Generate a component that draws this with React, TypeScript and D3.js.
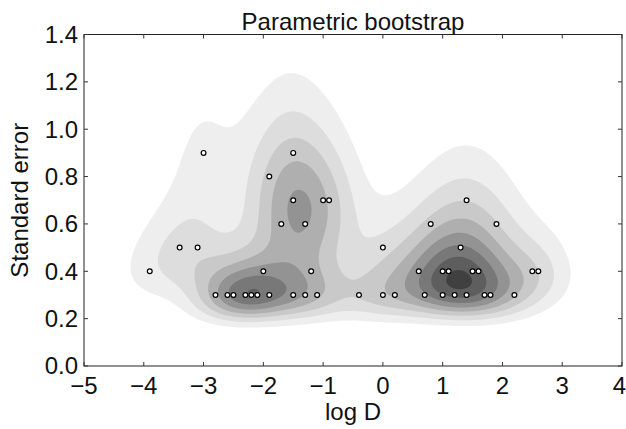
import * as d3 from "d3";

// bootstrap estimates (log D, standard error)
const logD = [-3.9, -3.4, -3.1, -3.0, -2.8, -2.6, -2.5, -2.3, -2.2, -2.1, -2.0, -1.9, -1.9, -1.7, -1.5, -1.5, -1.5, -1.3, -1.3, -1.2, -1.1, -1.0, -0.9, -0.4, 0.0, 0.0, 0.2, 0.6, 0.7, 0.8, 1.0, 1.0, 1.1, 1.2, 1.3, 1.4, 1.4, 1.5, 1.6, 1.7, 1.8, 1.9, 2.2, 2.5, 2.6];
const stdErr = [0.4, 0.5, 0.5, 0.9, 0.3, 0.3, 0.3, 0.3, 0.3, 0.3, 0.4, 0.3, 0.8, 0.6, 0.3, 0.7, 0.9, 0.3, 0.6, 0.4, 0.3, 0.7, 0.7, 0.3, 0.3, 0.5, 0.3, 0.4, 0.3, 0.6, 0.3, 0.4, 0.4, 0.3, 0.5, 0.3, 0.7, 0.4, 0.4, 0.3, 0.3, 0.6, 0.3, 0.4, 0.4];

const xTicks = [-5, -4, -3, -2, -1, 0, 1, 2, 3, 4];
const yTicks = [0, 0.2, 0.4, 0.6, 0.8, 1.0, 1.2, 1.4];

const width = 626;
const height = 429;
const margin = { top: 34.5, right: 4, bottom: 63, left: 84 };
const W = width - margin.left - margin.right;
const H = height - margin.top - margin.bottom;

const x = d3.scaleLinear().domain([-5, 4]).range([0, W]);
const y = d3.scaleLinear().domain([0, 1.4]).range([H, 0]);

// gaussian kernel: x in log D, y in log(standard error + 0.05)
const HX = 0.46;
const HY = 0.26;
const Y_SHIFT = 0.05;
const LEVEL_STEP = 0.99;

const cell = 2;
const nx = Math.ceil(W / cell);
const ny = Math.ceil(H / cell);

const ty = (v: number) => Math.log(v + Y_SHIFT);
const pts = logD.map((d, i) => [d, ty(stdErr[i])]);
const grid = new Float64Array(nx * ny);
for (let j = 0; j < ny; j++) {
  const ly = ty(y.invert((j + 0.5) * cell));
  for (let i = 0; i < nx; i++) {
    const xv = x.invert((i + 0.5) * cell);
    let s = 0;
    for (const [px, py] of pts) {
      const dx = (xv - px) / HX;
      const dy = (ly - py) / HY;
      s += Math.exp(-0.5 * (dx * dx + dy * dy));
    }
    grid[j * nx + i] = s;
  }
}

const zmax = d3.max(grid) as number;
const levels = d3.range(LEVEL_STEP, zmax, LEVEL_STEP);
const contours = d3.contours().size([nx, ny]).thresholds(levels)(Array.from(grid));
const shade = (k: number) =>
  d3.interpolateGreys(0.13 + (k * 0.67) / Math.max(1, levels.length - 1));

const path = d3.geoPath(
  d3.geoTransform({
    point(px: number, py: number) {
      this.stream.point(px * cell, py * cell);
    },
  })
);

const font = "'Liberation Sans', Arial, Helvetica, sans-serif";
const fmtY = (v: number) => v.toFixed(1);
const fmtX = (v: number) => (v < 0 ? "\u2212" + Math.abs(v) : String(v));

export default function App() {
  return (
    <svg
      width={width}
      height={height}
      style={{ position: "absolute", left: 0, top: 0, background: "#fff" }}
      fontFamily={font}
    >
      <defs>
        <clipPath id="plot-clip">
          <rect width={W} height={H} />
        </clipPath>
      </defs>
      <g transform={`translate(${margin.left},${margin.top})`}>
        <g clipPath="url(#plot-clip)">
          {contours.map((c, k) => (
            <path key={k} d={path(c as any) || ""} fill={shade(k)} stroke="none" />
          ))}
        </g>
        {logD.map((d, i) => (
          <circle
            key={i}
            cx={x(d)}
            cy={y(stdErr[i])}
            r={2.4}
            fill="#fff"
            stroke="#000"
            strokeWidth={1.2}
          />
        ))}
        <rect width={W} height={H} fill="none" stroke="#222" strokeWidth={1} />
        {xTicks.map((t) => (
          <g key={t} transform={`translate(${x(t)},0)`}>
            <line y1={H} y2={H - 4} stroke="#333" />
            <line y1={0} y2={4} stroke="#333" />
            <text
              y={H + 28}
              textAnchor={t === 4 ? "end" : "middle"}
              dx={t === 4 ? 4 : 0}
              fontSize={24}
              fill="#111"
            >
              {fmtX(t)}
            </text>
          </g>
        ))}
        {yTicks.map((t) => (
          <g key={t} transform={`translate(0,${y(t)})`}>
            <line x1={0} x2={4} stroke="#333" />
            <line x1={W} x2={W - 4} stroke="#333" />
            <text x={-6} dy="0.35em" textAnchor="end" fontSize={24} fill="#111">
              {fmtY(t)}
            </text>
          </g>
        ))}
        <text x={W / 2} y={-5} textAnchor="middle" fontSize={24} fill="#111">
          Parametric bootstrap
        </text>
        <text x={W / 2} y={H + 54} textAnchor="middle" fontSize={24} fill="#111">
          log D
        </text>
        <text
          transform={`translate(${-56},${H / 2}) rotate(-90)`}
          textAnchor="middle"
          fontSize={24}
          fill="#111"
        >
          Standard error
        </text>
      </g>
    </svg>
  );
}
